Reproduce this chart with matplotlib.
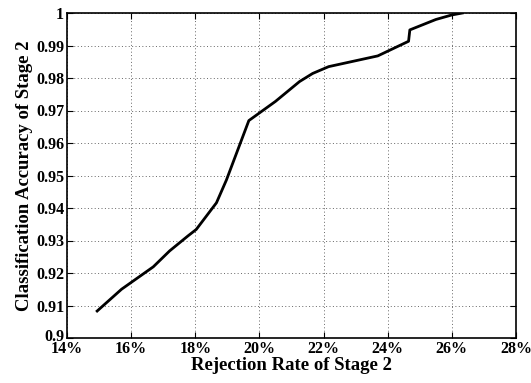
import numpy as np
import matplotlib.pyplot as plt
import matplotlib.transforms as mtransforms
from matplotlib.ticker import FuncFormatter

# rejection rate (%) and accuracy
rejection_rate = [14.94, 15.7, 16.69, 17.2, 17.77, 18.03, 18.66, 18.97, 19.67,
                  20.5, 21.25, 21.66, 22.16, 23.69, 24.65, 24.69, 25.5, 26.0, 26.33]
accuracy = [0.9083, 0.9150, 0.9219, 0.9268, 0.9314, 0.9334, 0.9416, 0.9486, 0.9669,
            0.9728, 0.9789, 0.9814, 0.9835, 0.9868, 0.9913, 0.9948, 0.9980, 0.9994, 1.0]
x_ticks = [14, 16, 18, 20, 22, 24, 26, 28]
y_ticks = [0.9, 0.91, 0.92, 0.93, 0.94, 0.95, 0.96, 0.97, 0.98, 0.99, 1.0]

plt.rcParams['font.family'] = ['Liberation Serif', 'DejaVu Serif']
plt.rcParams['font.weight'] = 'bold'

fig = plt.figure(figsize=(5.31, 3.83), dpi=100)
ax = fig.add_axes([67 / 531, 45 / 383, 449 / 531, 325 / 383])
ax.plot(rejection_rate, accuracy, color='black', lw=2)

ax.set_xlim(14, 28)
ax.set_ylim(0.9, 1.0)
ax.set_xticks(x_ticks)
ax.set_yticks(y_ticks)
ax.xaxis.set_major_formatter(FuncFormatter(lambda v, p: f'{v:.0f}%'))
ax.yaxis.set_major_formatter(FuncFormatter(lambda v, p: f'{v:g}'))
ax.tick_params(direction='in', top=True, right=True, labelsize=11.5, length=4, pad=2)
for lab in ax.get_xticklabels() + ax.get_yticklabels():
    lab.set_fontweight('bold')
ax.grid(True, linestyle=(0, (1, 2.5)), color='#666666', lw=0.7)
for s in ax.spines.values():
    s.set_linewidth(1.2)

# nudge the bottom y label up a bit so it doesn't collide with 14%
lbl = ax.get_yticklabels()[0]
lbl.set_transform(lbl.get_transform() + mtransforms.ScaledTranslation(0, 2 / 72, fig.dpi_scale_trans))

ax.set_xlabel('Rejection Rate of Stage 2', fontsize=13.5, fontweight='bold', labelpad=0)
ax.set_ylabel('Classification Accuracy of Stage 2', fontsize=13.5, fontweight='bold', labelpad=2)

fig.savefig('out.png', dpi=100)
